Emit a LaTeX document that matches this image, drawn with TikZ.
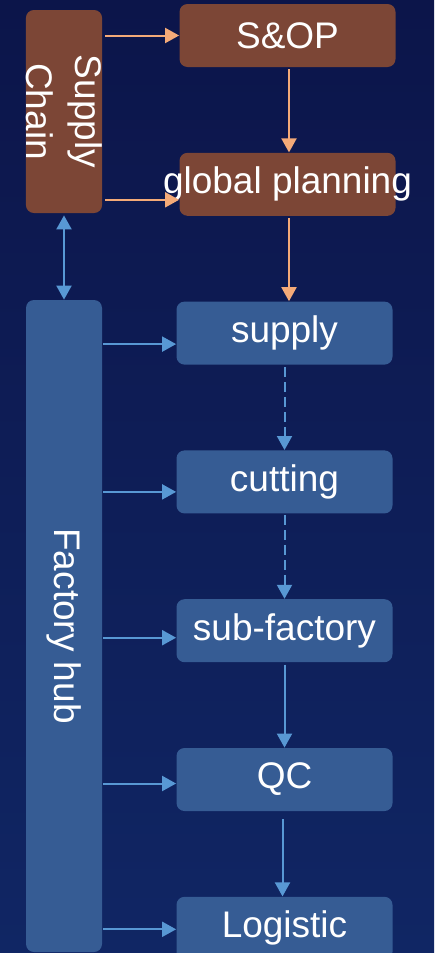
\documentclass[tikz,border=0pt]{standalone}
\usepackage{fontspec}
\setmainfont{Liberation Sans}
\usepackage{tikz}
\usetikzlibrary{arrows.meta}
\usetikzlibrary{positioning}
\definecolor{bgtop}{RGB}{12,21,74}
\definecolor{bgbot}{RGB}{16,38,100}
\definecolor{mybrown}{RGB}{124,70,54}
\definecolor{myboxblue}{RGB}{54,92,148}
\definecolor{myorange}{RGB}{244,170,120}
\definecolor{myarrblue}{RGB}{88,152,212}
\tikzset{
  box/.style={rounded corners=4pt,inner sep=0,text=white,font=\fontsize{18.5}{22}\selectfont,
    minimum width=108pt,minimum height=31.5pt},
  box brown/.style={box,fill=mybrown},
  box blue/.style={box,fill=myboxblue},
  side/.style={box,minimum height=38pt,align=center,rotate=-90,font=\fontsize{18.5}{24.5}\selectfont},
  flow orange/.style={-{Triangle[length=7pt,width=7.5pt]},line width=1pt,myorange},
  flow blue/.style={-{Triangle[length=7pt,width=7.5pt]},line width=1pt,myarrblue},
  flow dash/.style={flow blue,dash pattern=on 5pt off 2.5pt}
}

\begin{document}
\begin{tikzpicture}[node distance=42.5pt]

  \shade[top color=bgtop,bottom color=bgbot] (0,0) rectangle (217pt,-476.5pt);
  \useasboundingbox (0,0) rectangle (217pt,-476.5pt);

  % planning (brown)
  \node[box brown] (sop) at (143.75pt,-17.75pt) {S\&OP};
  \node[box brown, below=of sop] (glob) {\makebox[0pt]{global planning}};
  % side boxes are turned: their north is to the right, their east down
  \node[side, fill=mybrown, minimum width=101.5pt] (chain) at (32pt,-55.75pt) {Supply\\Chain};

  % factory (blue)
  \node[box blue, below=42.5pt of glob, xshift=-1.5pt] (supply) {supply};
  \node[box blue, below=of supply] (cutting) {cutting};
  \node[box blue, below=of cutting] (subf) {sub-factory};
  \node[box blue, below=of subf] (qc) {QC};
  \node[box blue, below=of qc] (logi) {Logistic};
  \node[side, fill=myboxblue, minimum width=326pt] (hub) at (32pt,-313pt) {Factory hub};

  \draw[flow orange, shorten <=1.5pt] (chain.north |- sop.west) -- (sop.west);
  \draw[flow orange, shorten <=1.5pt] ([yshift=-7.75pt]chain.north |- glob.west) -- ([yshift=-7.75pt]glob.west);
  \draw[flow orange, shorten <=1pt] ([xshift=0.75pt]sop.south) -- ([xshift=0.75pt]glob.north);
  \draw[flow orange, shorten <=1pt] ([xshift=0.75pt]glob.south) -- ([xshift=0.75pt]glob.south |- supply.north);

  \draw[{Triangle[length=7pt,width=7.5pt]}-{Triangle[length=7pt,width=7.5pt]}, line width=1pt, myarrblue,
    shorten <=1pt] (chain.east) -- (hub.west);

  \foreach \n/\dy in {supply/5.5, cutting/5, subf/3.5, qc/2, logi/0.5}
    \draw[flow blue, shorten <=0.5pt] ([yshift=-\dy pt]hub.north |- \n.west) -- ([yshift=-\dy pt]\n.west);

  \draw[flow dash, shorten <=1pt] (supply) -- (cutting);
  \draw[flow dash, shorten <=0.5pt] (cutting) -- (subf);
  \draw[flow blue, shorten <=1pt] (subf) -- (qc);
  \draw[flow blue, shorten <=4pt] ([xshift=-1pt]qc.south) -- ([xshift=-1pt]logi.north);

\end{tikzpicture}
\end{document}
